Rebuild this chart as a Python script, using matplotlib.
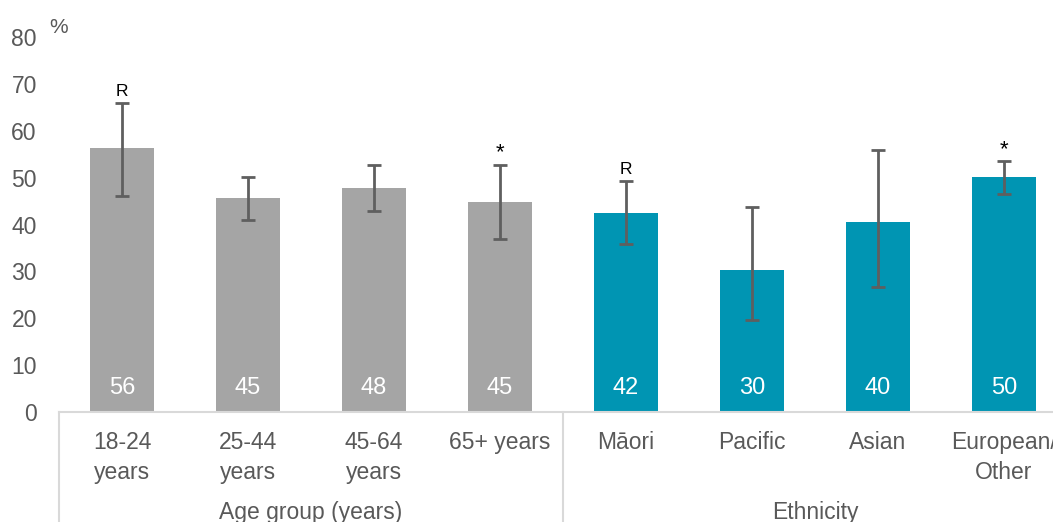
import matplotlib
matplotlib.use("Agg")
import matplotlib.pyplot as plt
import matplotlib.transforms as mtransforms

# data
categories = ["18-24\nyears", "25-44\nyears", "45-64\nyears", "65+ years",
              "Māori", "Pacific", "Asian", "European/\nOther"]
values = [56.3, 45.6, 47.8, 44.8, 42.4, 30.3, 40.5, 50.1]
value_labels = ["56", "45", "48", "45", "42", "30", "40", "50"]
ci_low = [46.1, 40.9, 42.9, 37.0, 35.9, 19.6, 26.7, 46.5]
ci_high = [65.9, 50.2, 52.7, 52.8, 49.3, 43.7, 56.0, 53.5]
flags = ["R", "", "", "*", "R", "", "", "*"]
groups = ["Age group (years)", "Ethnicity"]
group_sizes = [4, 4]

grey = "#a5a5a5"
teal = "#0095b3"
text_col = "#595959"
line_col = "#d9d9d9"

plt.rcParams["font.family"] = ["Liberation Sans", "DejaVu Sans"]

fig = plt.figure(figsize=(10.53, 5.22), dpi=100)
ax = fig.add_axes([59 / 1053, 1 - 412 / 522, 1008 / 1053, 375 / 522])

x = list(range(len(categories)))
colors = [grey] * group_sizes[0] + [teal] * group_sizes[1]
yerr = [[v - lo for v, lo in zip(values, ci_low)],
        [hi - v for v, hi in zip(values, ci_high)]]
ax.bar(x, values, width=0.51, color=colors, zorder=2)
ax.errorbar(x, values, yerr=yerr, fmt="none", ecolor="#5f5f5f",
            elinewidth=2, capsize=5, capthick=2, zorder=3)

for i in x:
    ax.text(i, 5.1, value_labels[i], color="white", fontsize=17,
            ha="center", va="center", zorder=4)
    if flags[i]:
        if flags[i] == "*":
            ax.annotate("*", (i, ci_high[i]), xytext=(0, 1), textcoords="offset points",
                        ha="center", va="bottom", fontsize=16, color="black")
        else:
            ax.annotate("R", (i, ci_high[i]), xytext=(0, 3), textcoords="offset points",
                        ha="center", va="bottom", fontsize=12.5, color="black")

ax.set_xlim(-0.5, len(categories) - 0.5)
ax.set_ylim(0, 80)
ax.set_yticks(range(0, 81, 10))
ax.set_xticks(x)
ax.set_xticklabels(categories, fontsize=16.5, color=text_col, linespacing=1.35)
ax.tick_params(axis="x", length=0, pad=14)
ax.tick_params(axis="y", length=0, pad=16, labelsize=16.5, labelcolor=text_col)

for side in ["top", "right", "left"]:
    ax.spines[side].set_visible(False)
ax.spines["bottom"].set_color(line_col)
ax.spines["bottom"].set_linewidth(1.5)

ax.text(-0.01, 1.0, "%", transform=ax.transAxes, fontsize=15,
        color=text_col, ha="left", va="bottom")

# group separators and group names under the category labels
trans = mtransforms.blended_transform_factory(ax.transData, ax.transAxes)
start = -0.5
for name, n in zip(groups, group_sizes):
    ax.plot([start, start], [0, -0.4], transform=trans, color=line_col,
            lw=1.5, clip_on=False)
    ax.text(start + n / 2, -0.267, name, transform=trans, fontsize=16.5,
            color=text_col, ha="center", va="center")
    start += n
ax.plot([start, start], [0, -0.4], transform=trans, color=line_col,
        lw=1.5, clip_on=False)

fig.savefig("out.png", dpi=100)
